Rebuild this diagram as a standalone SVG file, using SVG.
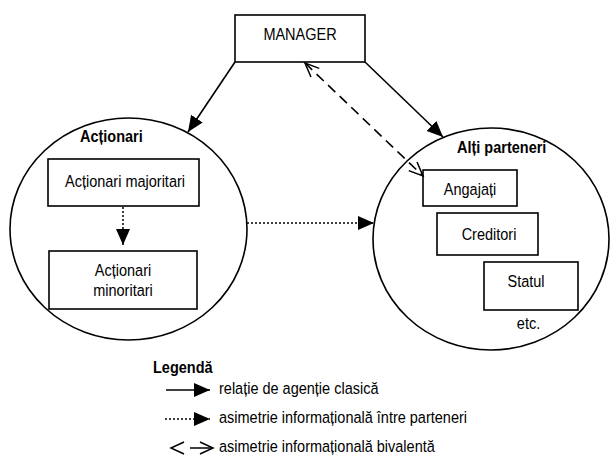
<svg xmlns="http://www.w3.org/2000/svg" width="611" height="461" viewBox="0 0 611 461">
<defs>
<style>
.bg{fill:#fff}
.box{fill:#fff;stroke:#000;stroke-width:1.6}
.ell{fill:#fff;stroke:#000;stroke-width:1.6}
.t{font-family:"Liberation Sans",Arial,sans-serif;font-size:14.5px;fill:#000}
.m{text-anchor:middle}
.b{font-weight:bold}
.solid{stroke:#000;stroke-width:1.6;fill:none}
.dash{stroke:#000;stroke-width:1.6;fill:none;stroke-dasharray:10 6}
.dot{stroke:#000;stroke-width:1.5;fill:none;stroke-dasharray:2 2}
</style>
<marker id="tri" markerUnits="userSpaceOnUse" markerWidth="17" markerHeight="15" refX="16" refY="7" orient="auto" viewBox="0 0 17 15">
<path d="M0,0 L16,7 L0,14 z" fill="#000"/>
</marker>
<marker id="open" markerUnits="userSpaceOnUse" markerWidth="16" markerHeight="14" refX="14" refY="6" orient="auto-start-reverse" viewBox="0 0 16 14" overflow="visible">
<path d="M0,0 L14,6 L0,12" fill="none" stroke="#000" stroke-width="1.5"/>
</marker>
</defs>
<rect class="bg" x="0" y="0" width="611" height="461"/>

<g id="actionari">
<ellipse class="ell" cx="128.5" cy="229" rx="118.5" ry="111"/>
<text class="t b" transform="translate(80 142) scale(1 1.2)">Acționari</text>
</g>
<g id="alti-parteneri">
<ellipse class="ell" cx="491" cy="239" rx="118" ry="111"/>
<text class="t b" transform="translate(457 153) scale(1 1.2)">Alți parteneri</text>
<text class="t m" transform="translate(528.5 328.5) scale(1 1.2)">etc.</text>
</g>
<g id="manager">
<rect class="box" x="235" y="15" width="130" height="47"/>
<text class="t m" transform="translate(300 40) scale(1 1.2)">MANAGER</text>
</g>
<g id="actionari-majoritari">
<rect class="box" x="48" y="159" width="151" height="47"/>
<text class="t m" transform="translate(125 187) scale(1 1.2)">Acționari majoritari</text>
</g>
<g id="actionari-minoritari">
<rect class="box" x="49" y="251" width="148" height="58"/>
<text class="t m" transform="translate(123 276) scale(1 1.2)">Acționari</text>
<text class="t m" transform="translate(123 296) scale(1 1.2)">minoritari</text>
</g>
<g id="angajati">
<rect class="box" x="423" y="170" width="94" height="36"/>
<text class="t m" transform="translate(470 195) scale(1 1.2)">Angajați</text>
</g>
<g id="creditori">
<rect class="box" x="437" y="213" width="101" height="42"/>
<text class="t m" transform="translate(489 240) scale(1 1.2)">Creditori</text>
</g>
<g id="statul">
<rect class="box" x="484" y="262" width="94" height="48"/>
<text class="t m" transform="translate(526 287) scale(1 1.2)">Statul</text>
</g>

<g id="connectors">
<line class="solid" x1="235" y1="62" x2="188" y2="132" marker-end="url(#tri)"/>
<line class="solid" x1="365" y1="62" x2="443" y2="137" marker-end="url(#tri)"/>
<line class="dash" x1="305" y1="63" x2="423" y2="176" marker-start="url(#open)" marker-end="url(#open)"/>
<line class="dot" x1="247" y1="223" x2="374" y2="223" marker-end="url(#tri)"/>
<line class="dot" x1="123" y1="207" x2="123" y2="245" marker-end="url(#tri)"/>
</g>

<g id="legend">
<text class="t b" transform="translate(153 373) scale(1 1.2)">Legendă</text>
<line class="solid" x1="166" y1="390" x2="210" y2="390" marker-end="url(#tri)"/>
<text class="t" transform="translate(219 394) scale(1 1.2)">relație de agenție clasică</text>
<line class="dot" x1="165" y1="419" x2="210" y2="419" marker-end="url(#tri)"/>
<text class="t" transform="translate(219 423) scale(1 1.2)">asimetrie informațională între parteneri</text>
<path d="M184,442 L171,448 L184,454" fill="none" stroke="#000" stroke-width="1.5"/>
<path d="M190,448 H212" fill="none" stroke="#000" stroke-width="1.5"/>
<path d="M200,442 L213,448 L200,454" fill="none" stroke="#000" stroke-width="1.5"/>
<text class="t" transform="translate(219 452) scale(1 1.2)">asimetrie informațională bivalentă</text>
</g>
</svg>
